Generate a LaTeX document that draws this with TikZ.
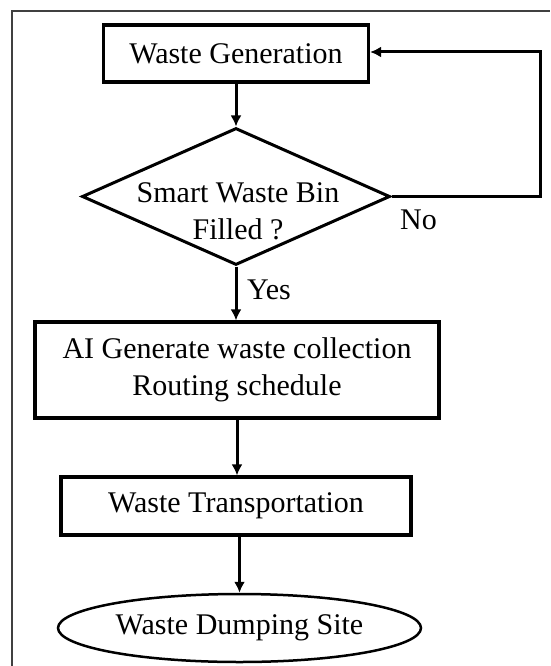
\documentclass[tikz,border=0pt]{standalone}
\usepackage{fontspec}
\setmainfont{Liberation Serif}
\usetikzlibrary{shapes.geometric,arrows.meta}
\begin{document}
\begin{tikzpicture}[x=1pt,y=-1pt,
  font=\fontsize{30}{37}\selectfont,
  box/.style={draw,line width=3.2pt,inner sep=0pt,align=center},
  conn/.style={line width=3pt,-{Latex[length=11pt,width=11pt]}},
  lbl/.style={anchor=base west,inner sep=0pt},
]
\useasboundingbox (0,0) rectangle (550,666);
\draw[line width=1.6pt,color=black!75] (12,666) -- (12,11) -- (550,11);
\node[box,minimum width=265pt,minimum height=57pt] (gen) at (236,53.5) {Waste Generation};
\node[draw,diamond,line width=3pt,minimum width=308pt,minimum height=137pt,inner sep=0pt] (bin) at (236,196.5) {};
\node[align=center,inner sep=0pt] (bintext) at (238,211) {Smart Waste Bin\\Filled ?};
\node[box,minimum width=404pt,minimum height=96pt] (ai) at (237,370) {AI Generate waste collection\\Routing schedule};
\node[box,minimum width=350pt,minimum height=58pt] (tr) at (236,506) {Waste Transportation};
\node[draw,ellipse,line width=2.5pt,minimum width=363pt,minimum height=68pt,inner sep=0pt] (dump) at (239.5,628) {Waste Dumping Site};
\node[lbl] (no) at (400,229) {No};
\node[lbl] (yes) at (247,299) {Yes};
\coordinate (c1) at (540,196.5);
\coordinate (c2) at (540,52);
\draw[conn] (gen.south) -- (bin.north);
\draw[conn] (bin.south) -- (bin.south |- ai.north);
\draw[conn] (ai.south) -- (ai.south |- tr.north);
\draw[conn] (tr.south -| dump.north) -- (dump.north);
\draw[conn] (bin.east) -- (c1) -- (c2) -- (gen.east |- c2);
\end{tikzpicture}
\end{document}
